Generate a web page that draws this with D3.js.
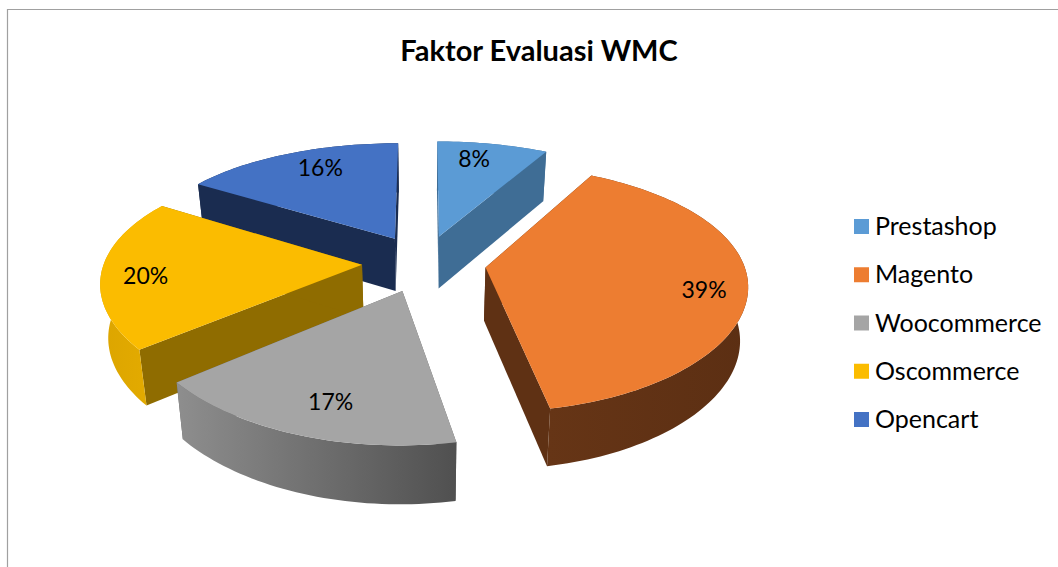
<!DOCTYPE html>
<html lang="en">
<head>
  <meta charset="UTF-8">
  <title>Faktor Evaluasi WMC</title>
  <style>
    html, body { margin: 0; padding: 0; background: #fff; }
    svg { display: block; }
    text { font-family: Lato, "Open Sans", sans-serif; fill: #000; }
  </style>
</head>
<body>
<script src="https://d3js.org/d3.v7.min.js"></script>
<div id="d3_chart"></div>

<script>
  // DATA =========================================================================
  const chartTitle = "Faktor Evaluasi WMC";
  const categories = ["Prestashop", "Magento", "Woocommerce", "Oscommerce", "Opencart"];
  const shares = [8, 39, 17, 20, 16];

  // COLOURS ======================================================================
  const topColors = ["#5B9BD5", "#ED7D31", "#A5A5A5", "#FBBC00", "#4472C4"];
  const wallColors = ["#3F6D95", "#5F3114", "#636363", "#8F6C00", "#1A2C50"];
  const rimStops = [
    ["#3F6D95", "#3F6D95"],
    ["#663516", "#5C2F13"],
    ["#8E8E8E", "#505050"],
    ["#DCA500", "#E6AD00"],
    ["#1A2C50", "#1A2C50"]
  ];
  // back to front, so nearer slices cover the farther ones
  const drawOrder = ["Opencart", "Prestashop", "Oscommerce", "Magento", "Woocommerce"];

  // LAYOUT =======================================================================
  const width = 1058, height = 567;
  const cx = 424, cy = 263;      // pie centre on screen
  const radius = 258;
  const explode = 62;
  const tilt = 0.46;             // how flat the pie is drawn
  const perspX = 0.0005;         // nearer points grow
  const perspY = 0.00064;
  const bottomShrink = 0.975;    // verticals lean to the centre a little
  const labelRadius = 0.82;
  // the labels are not quite on the bisector, same order as categories
  const labelNudge = [[-10, -1], [4, 6], [13, -4], [-3, 4], [14, 0]];

  const svg = d3.select("#d3_chart")
    .append("svg")
      .attr("width", width)
      .attr("height", height);

  // frame, only the top and left edge are visible
  svg.append("path")
    .attr("d", d3.line()([[7.5, height], [7.5, 9.5], [width, 9.5]]))
    .attr("fill", "none")
    .attr("stroke", "#A0A0A0")
    .attr("stroke-width", 1.2);

  svg.append("text")
    .attr("x", 539)
    .attr("y", 61)
    .attr("text-anchor", "middle")
    .attr("font-size", 29)
    .attr("font-weight", 700)
    .text(chartTitle);

  // PROJECTION ===================================================================
  // ground point: x to the right, y towards the viewer
  function project(p, isBottom) {
    const wx = 1 / (1 - perspX * p.y);
    const wy = 1 / (1 - perspY * p.y);
    const drop = isBottom ? 30 + 23 * wy : 0;
    const shrink = isBottom ? bottomShrink : 1;
    return [cx + p.x * wx * shrink, cy + tilt * p.y * wy + drop];
  }

  const pie = d3.pie().sort(null);
  const slices = pie(shares).map((s, i) => {
    const mid = (s.startAngle + s.endAngle) / 2;
    return {
      ...s,
      name: categories[i],
      index: i,
      mid: mid,
      ox: explode * Math.sin(mid),
      oy: -explode * Math.cos(mid)
    };
  });

  const ground = (s, angle, r) => ({
    x: s.ox + r * Math.sin(angle),
    y: s.oy - r * Math.cos(angle)
  });

  function arcPoints(s, isBottom) {
    const n = Math.ceil((s.endAngle - s.startAngle) * 40);
    return d3.range(n + 1).map(i => {
      const a = s.startAngle + (s.endAngle - s.startAngle) * i / n;
      return project(ground(s, a, radius), isBottom);
    });
  }

  const line = d3.line();
  const closed = pts => line(pts) + "Z";

  // GRADIENTS ====================================================================
  const defs = svg.append("defs");
  rimStops.forEach((stops, i) => {
    const g = defs.append("linearGradient").attr("id", `rim${i}`);
    // the rim gradient runs from the left edge of the slice to the right
    g.append("stop").attr("offset", "0%").attr("stop-color", stops[0]);
    g.append("stop").attr("offset", "100%").attr("stop-color", stops[1]);
  });

  // PLOT =========================================================================
  const byName = new Map(slices.map(s => [s.name, s]));

  drawOrder.forEach(name => {
    const s = byName.get(name);
    const g = svg.append("g").attr("class", "slice");
    const apexTop = project(ground(s, 0, 0), false);
    const apexBottom = project(ground(s, 0, 0), true);
    const topArc = arcPoints(s, false);
    const bottomArc = arcPoints(s, true);

    // radial walls
    g.append("path")
      .attr("d", closed([apexTop, topArc[0], bottomArc[0], apexBottom]))
      .attr("fill", wallColors[s.index]);
    g.append("path")
      .attr("d", closed([apexTop, topArc[topArc.length - 1], bottomArc[bottomArc.length - 1], apexBottom]))
      .attr("fill", wallColors[s.index]);

    // outer rim
    g.append("path")
      .attr("d", closed(topArc.concat(bottomArc.slice().reverse())))
      .attr("fill", `url(#rim${s.index})`);

    // top face
    g.append("path")
      .attr("d", closed([apexTop].concat(topArc)))
      .attr("fill", topColors[s.index]);
  });

  // LABELS =======================================================================
  const labelPos = d => project(ground(d, d.mid, radius * labelRadius), false);

  svg.append("g")
    .selectAll("text")
    .data(slices)
    .join("text")
      .attr("text-anchor", "middle")
      .attr("dominant-baseline", "central")
      .attr("font-size", 23)
      .attr("x", d => labelPos(d)[0] + labelNudge[d.index][0])
      .attr("y", d => labelPos(d)[1] + labelNudge[d.index][1])
      .text(d => `${d.value}%`);

  // LEGEND =======================================================================
  const legendY = d3.scalePoint()
    .domain(categories)
    .range([226.5, 419.5]);

  const legend = svg.append("g")
    .selectAll("g")
    .data(categories)
    .join("g")
      .attr("transform", d => `translate(854,${legendY(d)})`);

  legend.append("rect")
    .attr("y", -7.5)
    .attr("width", 15)
    .attr("height", 15)
    .attr("fill", (d, i) => topColors[i]);

  legend.append("text")
    .attr("x", 21)
    .attr("y", 8.5)
    .attr("font-size", 25)
    .text(d => d);
</script>
</body>
</html>
